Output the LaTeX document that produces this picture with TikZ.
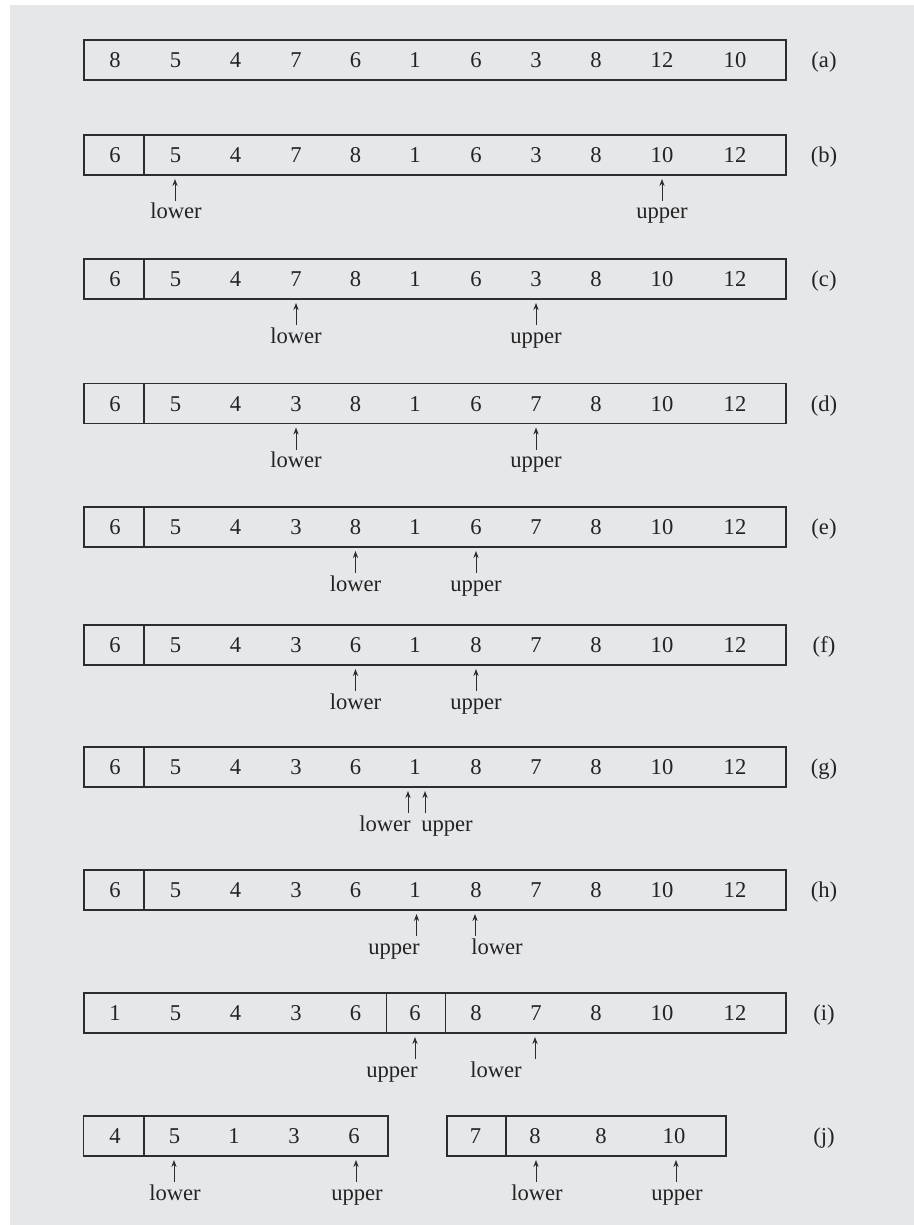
\documentclass[tikz,border=0pt]{standalone}
\usepackage{fontspec}
\setmainfont{Liberation Serif}
\usetikzlibrary{arrows.meta}
\definecolor{bgpanel}{RGB}{230,231,233}
\definecolor{lncol}{RGB}{45,45,45}
\definecolor{txcol}{RGB}{35,35,35}
\newcommand\fullrow[3]{%
  \foreach \cv [count=\ci] in {#3} {%
    \pgfmathsetmacro\cx{{115,175.5,235.5,296,355.5,415,476,536,596,662,735}[\ci-1]}%
    \node[num] (#1\ci) at (\cx,#2+7.5) {\cv};}}
\newcommand\freerow[3]{%
  \foreach \cx/\cv [count=\ci] in {#3} {%
    \node[num] (#1\ci) at (\cx,#2+7.5) {\cv};}}
\newcommand\pointer[5]{% name, arrow x, box bottom, label x, text
  \coordinate (#1tip) at (#2,#3+4);
  \coordinate (#1end) at (#2,#3+26);
  \draw[ptr] (#1end) -- (#1tip);
  \node[num] (#1lab) at (#4,#3+44) {#5};}
\begin{document}
\begin{tikzpicture}[x=0.5pt,y=-0.5pt,
  num/.style={font=\fontsize{11.3}{13}\selectfont, anchor=base, inner sep=0pt, text=txcol},
  boxline/.style={draw=lncol, line width=0.9pt},
  ptr/.style={draw=lncol, line width=0.5pt, -{Stealth[length=3.5pt,width=2.6pt]}}]
\useasboundingbox (0,0) rectangle (914,1225);
\fill[bgpanel] (10,5) rectangle (914,1225);
% (a)
\draw[boxline] (84,40) rectangle (786,80);
\fullrow{a}{60}{8,5,4,7,6,1,6,3,8,12,10}
\node[num] (la) at (824,67.5) {(a)};
% (b)
\draw[boxline] (84,135) rectangle (786,175);
\draw[boxline] (144,135) -- (144,175);
\fullrow{b}{155}{6,5,4,7,8,1,6,3,8,10,12}
\node[num] (lb) at (824,162.5) {(b)};
\pointer{bl}{175}{175}{176}{lower}
\pointer{bu}{662}{175}{662}{upper}
% (c)
\draw[boxline] (84,259) rectangle (786,299);
\draw[boxline] (144,259) -- (144,299);
\fullrow{c}{279}{6,5,4,7,8,1,6,3,8,10,12}
\node[num] (lc) at (824,286.5) {(c)};
\pointer{cl}{296}{299}{296}{lower}
\pointer{cu}{536}{299}{536}{upper}
% (d)
\draw[boxline] (84,383.5) rectangle (786,423.5);
\draw[boxline] (144,383.5) -- (144,423.5);
\fullrow{d}{403.5}{6,5,4,3,8,1,6,7,8,10,12}
\node[num] (ld) at (824,411) {(d)};
\pointer{dl}{296}{423.5}{296}{lower}
\pointer{du}{536}{423.5}{536}{upper}
% (e)
\draw[boxline] (84,507) rectangle (786,547);
\draw[boxline] (144,507) -- (144,547);
\fullrow{e}{527}{6,5,4,3,8,1,6,7,8,10,12}
\node[num] (le) at (824,534.5) {(e)};
\pointer{el}{355.5}{547}{355.5}{lower}
\pointer{eu}{476}{547}{476}{upper}
% (f)
\draw[boxline] (84,625) rectangle (786,665);
\draw[boxline] (144,625) -- (144,665);
\fullrow{f}{645}{6,5,4,3,6,1,8,7,8,10,12}
\node[num] (lf) at (824,652.5) {(f)};
\pointer{fl}{355.5}{665}{355.5}{lower}
\pointer{fu}{476}{665}{476}{upper}
% (g)
\draw[boxline] (84,747) rectangle (786,787);
\draw[boxline] (144,747) -- (144,787);
\fullrow{g}{767}{6,5,4,3,6,1,8,7,8,10,12}
\node[num] (lg) at (824,774.5) {(g)};
\pointer{gl}{408}{787}{385}{lower}
\pointer{gu}{425}{787}{447}{upper}
% (h)
\draw[boxline] (84,870) rectangle (786,910);
\draw[boxline] (144,870) -- (144,910);
\fullrow{h}{890}{6,5,4,3,6,1,8,7,8,10,12}
\node[num] (lh) at (824,897.5) {(h)};
\pointer{hu}{416.5}{910}{394}{upper}
\pointer{hl}{475}{910}{497}{lower}
% (i)
\draw[boxline] (84,993) rectangle (786,1033);
\draw[boxline] (386.5,993) -- (386.5,1033);
\draw[boxline] (445.5,993) -- (445.5,1033);
\fullrow{i}{1013}{1,5,4,3,6,6,8,7,8,10,12}
\node[num] (li) at (824,1020.5) {(i)};
\pointer{iu}{415}{1033}{392}{upper}
\pointer{il}{535}{1033}{496}{lower}
% (j)
\draw[boxline] (83.5,1116) rectangle (388,1156);
\draw[boxline] (144,1116) -- (144,1156);
\freerow{ja}{1136}{115/4,174.5/5,234/1,294/3,354/6}
\draw[boxline] (447,1116) rectangle (726,1156);
\draw[boxline] (506,1116) -- (506,1156);
\freerow{jb}{1136}{475.5/7,535/8,601/8,674/10}
\node[num] (lj) at (824,1143.5) {(j)};
\pointer{jal}{174}{1156}{175}{lower}
\pointer{jau}{356}{1156}{357}{upper}
\pointer{jbl}{536}{1156}{537}{lower}
\pointer{jbu}{676}{1156}{677}{upper}
\end{tikzpicture}
\end{document}
